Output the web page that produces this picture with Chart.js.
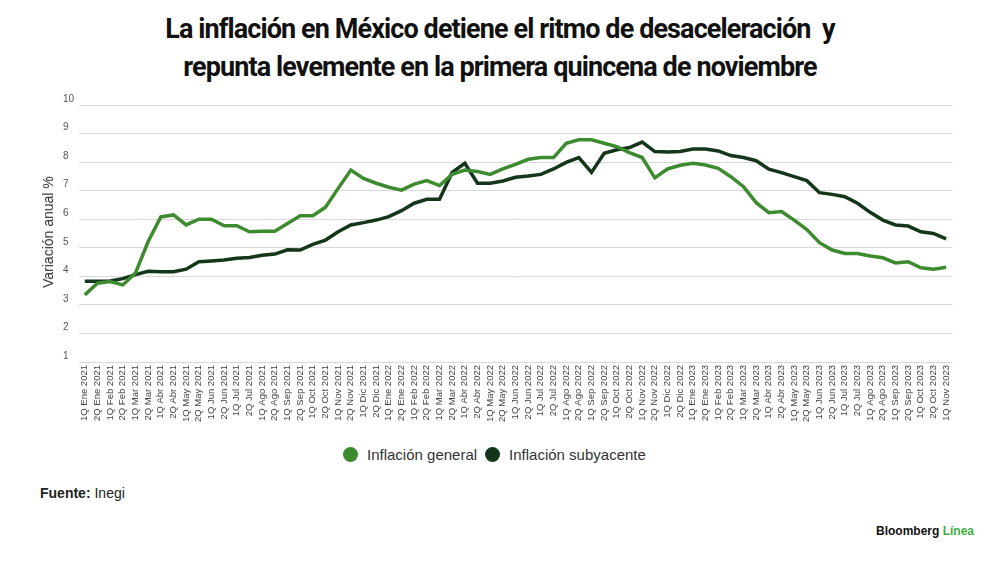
<!DOCTYPE html>
<html>
<head>
<meta charset="utf-8">
<script src="https://cdn.jsdelivr.net/npm/chart.js@4.4.0/dist/chart.umd.min.js"></script>
<style>
  body { margin: 0; background: #fff; font-family: "Liberation Sans", Arial, sans-serif; }
  #page { position: relative; width: 1000px; height: 562px; overflow: hidden; }
  .title { position: absolute; left: 0; width: 1000px; text-align: center; font-family: Roboto, sans-serif;
           font-weight: 700; font-size: 27px; letter-spacing: -0.9px; color: #111; white-space: nowrap; }
  #chartBox { position: absolute; left: 0; top: 0; width: 1000px; height: 440px; }
  .ytitle { position: absolute; left: 48px; top: 232px; transform: translate(-50%, -50%) rotate(-90deg);
            font-size: 14px; color: #333; white-space: nowrap; }
  .legend { position: absolute; top: 446px; left: 343px; display: flex; align-items: center; font-size: 15px; color: #333; }
  .legend .dot { width: 15px; height: 15px; border-radius: 50%; display: inline-block; margin-right: 9px; }
  .legend .item { display: flex; align-items: center; margin-right: 8px; }
  .source { position: absolute; left: 40px; top: 485px; font-size: 14px; color: #222; }
  .logo { position: absolute; left: 876px; top: 524px; font-size: 12px; font-weight: 700; color: #111; }
</style>
</head>
<body>
<div id="page">
  <div class="title" style="top:13px">La inflación en México detiene el ritmo de desaceleración&nbsp; y</div>
  <div class="title" style="top:51px">repunta levemente en la primera quincena de noviembre</div>
  <div id="chartBox"><canvas id="myChart"></canvas></div>
  <div class="ytitle">Variación anual %</div>
  <div class="legend">
    <div class="item"><span class="dot" style="background:#3d8b2f"></span>Inflación general</div>
    <div class="item"><span class="dot" style="background:#14361a"></span>Inflación subyacente</div>
  </div>
  <div class="source"><b>Fuente:</b> Inegi</div>
  <div class="logo">Bloomberg <span style="color:#3fae45;font-weight:600">Línea</span></div>
</div>
<script>
const labels = [
  "1Q Ene 2021", "2Q Ene 2021", "1Q Feb 2021", "2Q Feb 2021", "1Q Mar 2021", "2Q Mar 2021",
  "1Q Abr 2021", "2Q Abr 2021", "1Q May 2021", "2Q May 2021", "1Q Jun 2021", "2Q Jun 2021",
  "1Q Jul 2021", "2Q Jul 2021", "1Q Ago 2021", "2Q Ago 2021", "1Q Sep 2021", "2Q Sep 2021",
  "1Q Oct 2021", "2Q Oct 2021", "1Q Nov 2021", "2Q Nov 2021", "1Q Dic 2021", "2Q Dic 2021",
  "1Q Ene 2022", "2Q Ene 2022", "1Q Feb 2022", "2Q Feb 2022", "1Q Mar 2022", "2Q Mar 2022",
  "1Q Abr 2022", "2Q Abr 2022", "1Q May 2022", "2Q May 2022", "1Q Jun 2022", "2Q Jun 2022",
  "1Q Jul 2022", "2Q Jul 2022", "1Q Ago 2022", "2Q Ago 2022", "1Q Sep 2022", "2Q Sep 2022",
  "1Q Oct 2022", "2Q Oct 2022", "1Q Nov 2022", "2Q Nov 2022", "1Q Dic 2022", "2Q Dic 2022",
  "1Q Ene 2023", "2Q Ene 2023", "1Q Feb 2023", "2Q Feb 2023", "1Q Mar 2023", "2Q Mar 2023",
  "1Q Abr 2023", "2Q Abr 2023", "1Q May 2023", "2Q May 2023", "1Q Jun 2023", "2Q Jun 2023",
  "1Q Jul 2023", "2Q Jul 2023", "1Q Ago 2023", "2Q Ago 2023", "1Q Sep 2023", "2Q Sep 2023",
  "1Q Oct 2023", "2Q Oct 2023", "1Q Nov 2023"
];

// Inflación general (%)
const general = [
  3.35, 3.76, 3.82, 3.70, 4.12, 5.22, 6.08, 6.15, 5.80, 6.00, 6.00, 5.77,
  5.77, 5.56, 5.58, 5.58, 5.85, 6.12, 6.12, 6.42, 7.08, 7.72, 7.43, 7.26,
  7.12, 7.02, 7.23, 7.35, 7.18, 7.57, 7.72, 7.67, 7.57, 7.76, 7.92, 8.10,
  8.16, 8.16, 8.66, 8.78, 8.78, 8.66, 8.54, 8.33, 8.16, 7.45, 7.76, 7.89,
  7.96, 7.90, 7.78, 7.49, 7.14, 6.58, 6.23, 6.27, 5.97, 5.64, 5.18, 4.92,
  4.80, 4.80, 4.71, 4.65, 4.47, 4.51, 4.30, 4.25, 4.32
];

// Inflación subyacente (%)
const subyacente = [
  3.83, 3.83, 3.84, 3.92, 4.06, 4.18, 4.16, 4.16, 4.25, 4.51, 4.54, 4.57,
  4.63, 4.66, 4.74, 4.78, 4.93, 4.92, 5.12, 5.27, 5.56, 5.80, 5.88, 5.97,
  6.09, 6.30, 6.56, 6.70, 6.70, 7.64, 7.96, 7.26, 7.26, 7.34, 7.47, 7.51,
  7.57, 7.76, 7.99, 8.16, 7.64, 8.31, 8.43, 8.51, 8.70, 8.37, 8.35, 8.37,
  8.46, 8.46, 8.39, 8.23, 8.16, 8.05, 7.75, 7.63, 7.49, 7.35, 6.93, 6.87,
  6.79, 6.56, 6.24, 5.97, 5.80, 5.76, 5.56, 5.50, 5.31
];

const yTicks = [1, 2, 3, 4, 5, 6, 7, 8, 9, 10];

const data = {
  labels: labels,
  datasets: [
    {
      label: "Inflación general",
      data: general,
      borderColor: "#3d8b2f",
      backgroundColor: "#3d8b2f",
      borderWidth: 3.5,
      pointRadius: 0,
      tension: 0,
    },
    {
      label: "Inflación subyacente",
      data: subyacente,
      borderColor: "#14361a",
      backgroundColor: "#14361a",
      borderWidth: 3.5,
      pointRadius: 0,
      tension: 0,
    },
  ],
};

const options = {
  responsive: true,
  maintainAspectRatio: false,
  animation: false,
  layout: { padding: { left: 63, right: 47.5, top: 105, bottom: 0 } },
  plugins: {
    legend: { display: false },
    tooltip: { enabled: false },
  },
  scales: {
    x: {
      type: "category",
      offset: true,
      grid: { display: false, drawTicks: false },
      border: { display: false },
      ticks: {
        autoSkip: false,
        minRotation: 90,
        maxRotation: 90,
        padding: 3,
        color: "#444",
        font: { family: "Liberation Sans", size: 9.5 },
      },
      afterFit: (scale) => { scale.height = 78; },
    },
    y: {
      min: 1,
      max: 10,
      afterBuildTicks: (scale) => { scale.ticks = yTicks.map((v) => ({ value: v })); },
      grid: { color: "#d9d9d9", lineWidth: 1, drawTicks: false },
      border: { display: false },
      ticks: {
        crossAlign: "far",
        labelOffset: -6,
        padding: 0,
        color: "#555",
        font: { family: "Liberation Sans", size: 10 },
      },
      afterFit: (scale) => { scale.width = 15.5; },
    },
  },
};

const ctx = document.getElementById("myChart").getContext("2d");
new Chart(ctx, { type: "line", data, options });
</script>
</body>
</html>
